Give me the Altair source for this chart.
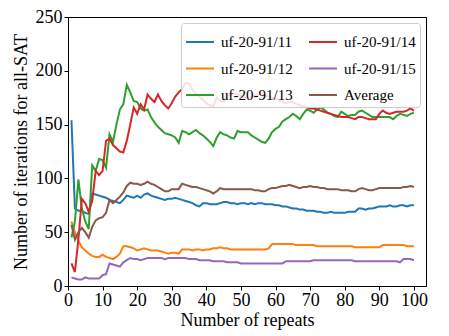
import altair as alt
import pandas as pd

repeats = list(range(1, 101))

uf11 = [154, 72, 70, 70, 68, 67, 86, 85, 84, 83, 82, 80, 79, 78, 77, 80, 84, 83, 82, 84,
        82, 85, 86, 84, 83, 82, 81, 80, 81, 81, 82, 81, 80, 79, 78, 77, 75, 74, 77, 77,
        76, 76, 76, 77, 78, 78, 77, 77, 76, 77, 77, 76, 77, 76, 77, 77, 76, 76, 76, 75,
        75, 74, 74, 73, 72, 72, 71, 71, 70, 70, 70, 69, 69, 68, 68, 69, 68, 68, 68, 68,
        69, 69, 69, 72, 72, 71, 72, 72, 73, 74, 74, 74, 75, 74, 74, 75, 75, 74, 75, 75]

uf12 = [60, 50, 42, 36, 33, 30, 28, 27, 27, 29, 27, 26, 25, 27, 30, 37, 37, 36, 35, 33,
        34, 35, 34, 33, 33, 33, 32, 31, 30, 31, 31, 30, 34, 34, 34, 33, 34, 34, 33, 34,
        34, 35, 35, 36, 35, 35, 34, 34, 34, 34, 34, 34, 34, 34, 34, 34, 34, 35, 39, 39,
        39, 39, 39, 39, 39, 38, 38, 38, 38, 38, 38, 37, 37, 37, 37, 37, 37, 37, 37, 37,
        37, 37, 36, 36, 36, 36, 36, 36, 36, 36, 38, 38, 38, 38, 38, 38, 38, 37, 37, 37]

uf13 = [45, 60, 99, 72, 60, 53, 112, 107, 118, 117, 110, 141, 134, 150, 164, 169, 187, 180, 172, 171,
        165, 163, 164, 157, 152, 148, 145, 142, 141, 140, 138, 133, 144, 143, 141, 143, 145, 142, 140, 137,
        134, 130, 138, 143, 141, 140, 138, 137, 144, 143, 143, 143, 140, 138, 136, 134, 133, 137, 143, 146,
        148, 153, 155, 157, 160, 158, 155, 160, 164, 163, 161, 164, 166, 164, 161, 160, 158, 157, 162, 160,
        158, 159, 159, 162, 163, 161, 159, 157, 157, 157, 157, 157, 157, 155, 158, 160, 159, 158, 160, 161]

uf14 = [21, 13, 43, 81, 77, 69, 79, 107, 103, 107, 135, 137, 131, 128, 125, 124, 135, 150, 166, 160,
        169, 164, 178, 174, 171, 178, 172, 168, 165, 170, 176, 180, 183, 189, 188, 182, 179, 176, 173, 170,
        168, 167, 175, 172, 171, 177, 177, 179, 178, 177, 175, 174, 176, 177, 178, 178, 177, 176, 175, 174,
        173, 171, 170, 171, 171, 169, 168, 167, 166, 165, 165, 164, 163, 162, 161, 160, 159, 158, 157, 157,
        157, 156, 155, 157, 157, 156, 155, 155, 155, 160, 163, 161, 160, 161, 162, 162, 162, 163, 165, 163]

uf15 = [8, 7, 6, 6, 8, 7, 7, 7, 7, 10, 11, 21, 20, 19, 18, 22, 24, 26, 25, 25,
        24, 25, 26, 26, 26, 26, 26, 25, 26, 26, 26, 26, 26, 26, 25, 25, 25, 24, 24, 24,
        24, 23, 23, 23, 23, 22, 22, 22, 22, 21, 21, 21, 21, 21, 21, 21, 21, 21, 21, 21,
        21, 21, 23, 23, 23, 23, 23, 23, 23, 23, 24, 24, 24, 24, 24, 24, 24, 24, 24, 24,
        24, 24, 23, 23, 23, 23, 23, 23, 23, 23, 23, 23, 23, 23, 23, 22, 25, 25, 25, 24]

average = [57, 43, 50, 54, 50, 45, 55, 61, 63, 64, 68, 80, 77, 80, 83, 87, 93, 96, 95, 95,
           94, 95, 97, 95, 94, 92, 90, 88, 88, 90, 90, 90, 95, 94, 93, 92, 92, 91, 90, 89,
           88, 86, 88, 91, 90, 90, 90, 90, 90, 90, 90, 90, 90, 89, 89, 88, 88, 90, 91, 91,
           92, 93, 93, 94, 93, 92, 91, 92, 92, 93, 92, 92, 91, 91, 90, 90, 90, 90, 89, 89,
           89, 88, 88, 90, 91, 90, 89, 89, 90, 91, 91, 91, 91, 91, 91, 91, 92, 92, 93, 92]

series_names = ["uf-20-91/11", "uf-20-91/12", "uf-20-91/13", "uf-20-91/14", "uf-20-91/15", "Average"]
series_values = [uf11, uf12, uf13, uf14, uf15, average]
series_colors = ["#1f77b4", "#ff7f0e", "#2ca02c", "#d62728", "#9467bd", "#8c564b"]

x_ticks = [0, 10, 20, 30, 40, 50, 60, 70, 80, 90, 100]
y_ticks = [0, 50, 100, 150, 200, 250]

rows = []
for order, (name, vals) in enumerate(zip(series_names, series_values)):
    for r, v in zip(repeats, vals):
        rows.append({"repeat": r, "value": v, "series": name, "order": order})
df = pd.DataFrame(rows)

FONT = "Liberation Serif"

chart = alt.Chart(df).mark_line(strokeWidth=2, clip=True).encode(
    x=alt.X("repeat:Q",
            scale=alt.Scale(domain=[0, 103.5], nice=False, zero=False),
            axis=alt.Axis(values=x_ticks, title="Number of repeats", format="d",
                          labelPadding=1, titlePadding=2)),
    y=alt.Y("value:Q",
            scale=alt.Scale(domain=[0, 250], nice=False),
            axis=alt.Axis(values=y_ticks, title="Number of iterations for all-SAT", format="d",
                          titlePadding=5)),
    color=alt.Color("series:N",
                    scale=alt.Scale(domain=series_names, range=series_colors),
                    legend=alt.Legend(
                        title=None, orient="none", legendX=113, legendY=6,
                        columns=2, direction="vertical",
                        symbolType="stroke", symbolSize=784, symbolStrokeWidth=2,
                        labelFont=FONT, labelFontSize=15, labelColor="black",
                        labelOffset=6, columnPadding=12, rowPadding=3.5,
                        padding=4, strokeColor="#cccccc", cornerRadius=3,
                        fillColor="rgba(255,255,255,0.85)")),
    order=alt.Order("order:Q"),
    detail="series:N",
).properties(
    width=358, height=269,
    autosize=alt.AutoSizeParams(type="none"),
    padding={"left": 60, "top": 9, "right": 15, "bottom": 50},
).configure_view(
    stroke="black", strokeWidth=1
).configure_axis(
    grid=False,
    domainColor="black", domainWidth=1,
    tickColor="black", tickSize=4, tickWidth=1,
    labelFont=FONT, labelFontSize=18, labelColor="black", labelPadding=2,
    titleFont=FONT, titleFontSize=18, titleColor="black", titleFontWeight="normal",
    labelFlush=False, labelOverlap=False,
)

chart.save("out.html", embed_options={"renderer": "svg", "actions": False})
